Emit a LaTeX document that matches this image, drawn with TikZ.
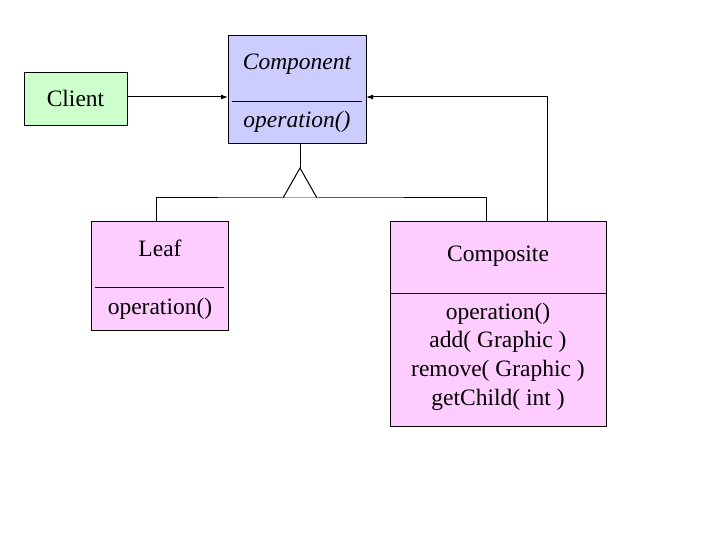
\documentclass[tikz,border=0pt]{standalone}
\usepackage{fontspec}
\setmainfont{Liberation Serif}
\usetikzlibrary{arrows.meta}
\definecolor{compfill}{HTML}{CCCCFF}
\definecolor{clientfill}{HTML}{CCFFCC}
\definecolor{leaffill}{HTML}{FFCCFF}
\begin{document}
\begin{tikzpicture}[x=1pt,y=-1pt,
  box/.style={draw=black,line width=1pt,inner sep=0pt,outer sep=0pt},
  txt/.style={anchor=base,inner sep=0pt,font=\fontsize{23.5}{29}\selectfont},
  ln/.style={line width=1pt},
  arr/.style={line width=1pt,-{Latex[length=7pt,width=5pt]}}]
\useasboundingbox[fill=white] (0,0) rectangle (720,540);
% boxes
\node[box,fill=compfill,minimum width=138pt,minimum height=108pt] (comp) at (297,90) {};
\node[box,fill=clientfill,minimum width=103pt,minimum height=53pt] (client) at (75.5,99.5) {};
\node[box,fill=leaffill,minimum width=137pt,minimum height=108pt] (leaf) at (159.5,276) {};
\node[box,fill=leaffill,minimum width=216pt,minimum height=204pt] (composite) at (498,324) {};
% dividers
\draw[ln] (232,102) -- (362,102);
\draw[ln] (95,287) -- (224,287);
\draw[ln] (composite.west |- 0,293) -- (composite.east |- 0,293);
% texts
\node[txt] (tcomp) at (297,70) {\itshape Component};
\node[txt] (tcop) at (297,128) {\itshape operation()};
\node[txt] (tclient) at (75.5,107) {Client};
\node[txt] (tleaf) at (160,256) {Leaf};
\node[txt] (tlop) at (160,314) {operation()};
\node[txt] (tcps) at (498,261) {Composite};
\node[txt] (m1) at (498,319) {operation()};
\node[txt] (m2) at (498,347) {add( Graphic )};
\node[txt] (m3) at (498,376) {remove( Graphic )};
\node[txt] (m4) at (498,405) {getChild( int )};
% association arrows
\draw[arr] (client.east |- 0,97) -- (comp.west |- 0,97);
\coordinate (cu) at (547,222);
\draw[arr] (cu) |- (comp.east |- 0,97);
% generalization
\coordinate (apex) at (300,168);
\coordinate (bl) at (283,198);
\coordinate (br) at (317,198);
\draw[ln] (300,144) -- (apex);
\draw[ln,line join=miter] (bl) -- (apex) -- (br);
\coordinate (lt) at (156,222);
\coordinate (ct) at (486,222);
\draw[ln] (lt) |- (bl) -- (br) -| (ct);
\end{tikzpicture}
\end{document}
